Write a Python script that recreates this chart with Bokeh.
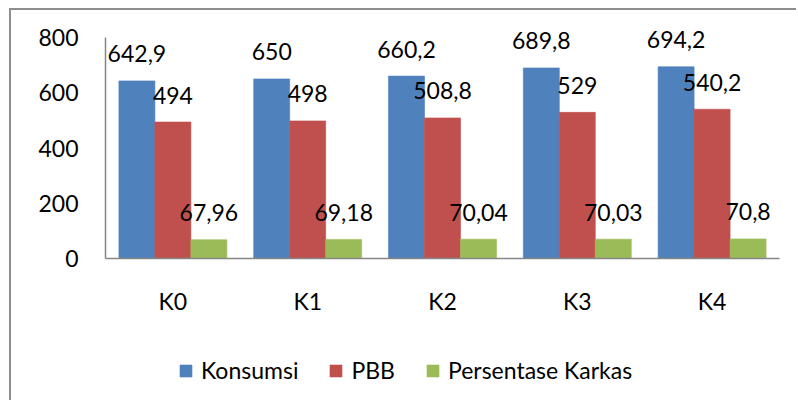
from bokeh.plotting import figure
from bokeh.layouts import column
from bokeh.models import ColumnDataSource, FactorRange, Range1d, Legend, LegendItem, FixedTicker
from bokeh.transform import dodge
from bokeh.core.properties import value
from bokeh.embed import file_html
from bokeh.resources import INLINE

categories = ["K0", "K1", "K2", "K3", "K4"]
konsumsi = [642.9, 650, 660.2, 689.8, 694.2]
pbb = [494, 498, 508.8, 529, 540.2]
karkas = [67.96, 69.18, 70.04, 70.03, 70.8]
y_ticks = [0, 200, 400, 600, 800]

def fmt(v):
    return f"{v:g}".replace(".", ",")

src = ColumnDataSource(dict(
    cat=categories,
    konsumsi=konsumsi, pbb=pbb, karkas=karkas,
    konsumsi_lbl=[fmt(v) for v in konsumsi],
    pbb_lbl=[fmt(v) for v in pbb],
    karkas_lbl=[fmt(v) for v in karkas],
))

FONT = "Lato"
W = 785
H1, H2 = 320, 70
TOP = 2
y_end = 800 + (27 - TOP) * 800 / 221
p = figure(width=W, height=H1, x_range=FactorRange(*categories), y_range=Range1d(0, y_end),
           output_backend="svg", toolbar_location=None,
           min_border_left=94, min_border_right=17, min_border_top=TOP, min_border_bottom=72)
p.outline_line_color = None
p.xgrid.grid_line_color = None
p.ygrid.grid_line_color = None
p.x_range.range_padding = 0
p.x_range.group_padding = 0

bw = 0.267
colors = ["#4F81BD", "#C0504D", "#9BBB59"]
series = [("konsumsi", "Konsumsi", -bw), ("pbb", "PBB", 0), ("karkas", "Persentase Karkas", bw)]
for (col, name, off), c in zip(series, colors):
    p.vbar(x=dodge("cat", off, range=p.x_range), top=col, width=bw, bottom=0,
           source=src, fill_color=c, line_color=c, line_alpha=0.6)
for (col, name, off) in series:
    p.text(x=dodge("cat", off, range=p.x_range), y=col, text=col + "_lbl", source=src,
           text_align="center", text_baseline="middle", y_offset=-27,
           text_font=value(FONT), text_font_size="23px", text_color="#000000")

for ax in (p.xaxis[0], p.yaxis[0]):
    ax.axis_line_color = "#868686"
    ax.axis_line_width = 1.5
    ax.major_tick_line_color = None
    ax.minor_tick_line_color = None
    ax.major_tick_out = 0
    ax.major_tick_in = 0
    ax.major_label_text_font = FONT
    ax.major_label_text_font_size = "23px"
    ax.major_label_text_color = "#000000"
p.yaxis[0].ticker = FixedTicker(ticks=y_ticks)
p.yaxis[0].bounds = (0, 800)
p.yaxis[0].major_label_standoff = 27
p.xaxis[0].major_label_standoff = 28

# legend strip
p2 = figure(width=W, height=H2, x_range=FactorRange(*categories), y_range=Range1d(10000, 20000),
            output_backend="svg", toolbar_location=None, x_axis_location=None, y_axis_location=None,
            min_border=0)
p2.outline_line_color = None
p2.xgrid.grid_line_color = None
p2.ygrid.grid_line_color = None
items = []
for (col, name, off), c in zip(series, colors):
    r = p2.vbar(x=dodge("cat", off, range=p2.x_range), top=col, width=bw, bottom=0,
                source=src, fill_color=c, line_color=c, line_alpha=0.6)
    items.append(LegendItem(label=name, renderers=[r]))
legend = Legend(items=items, orientation="horizontal", location=(73, 16),
                glyph_width=15, glyph_height=15, label_standoff=8, spacing=30,
                padding=0, margin=0, border_line_color=None, background_fill_alpha=0,
                label_text_font=FONT, label_text_font_size="23px", label_text_color="#000000")
p2.add_layout(legend, "center")

lay = column(p, p2, spacing=0)
lay.styles = {"border-left": "2px solid #8e8e8e", "border-top": "2px solid #8e8e8e",
              "margin-left": "9px", "margin-top": "8px"}

open("out.html", "w").write(file_html(lay, INLINE))
